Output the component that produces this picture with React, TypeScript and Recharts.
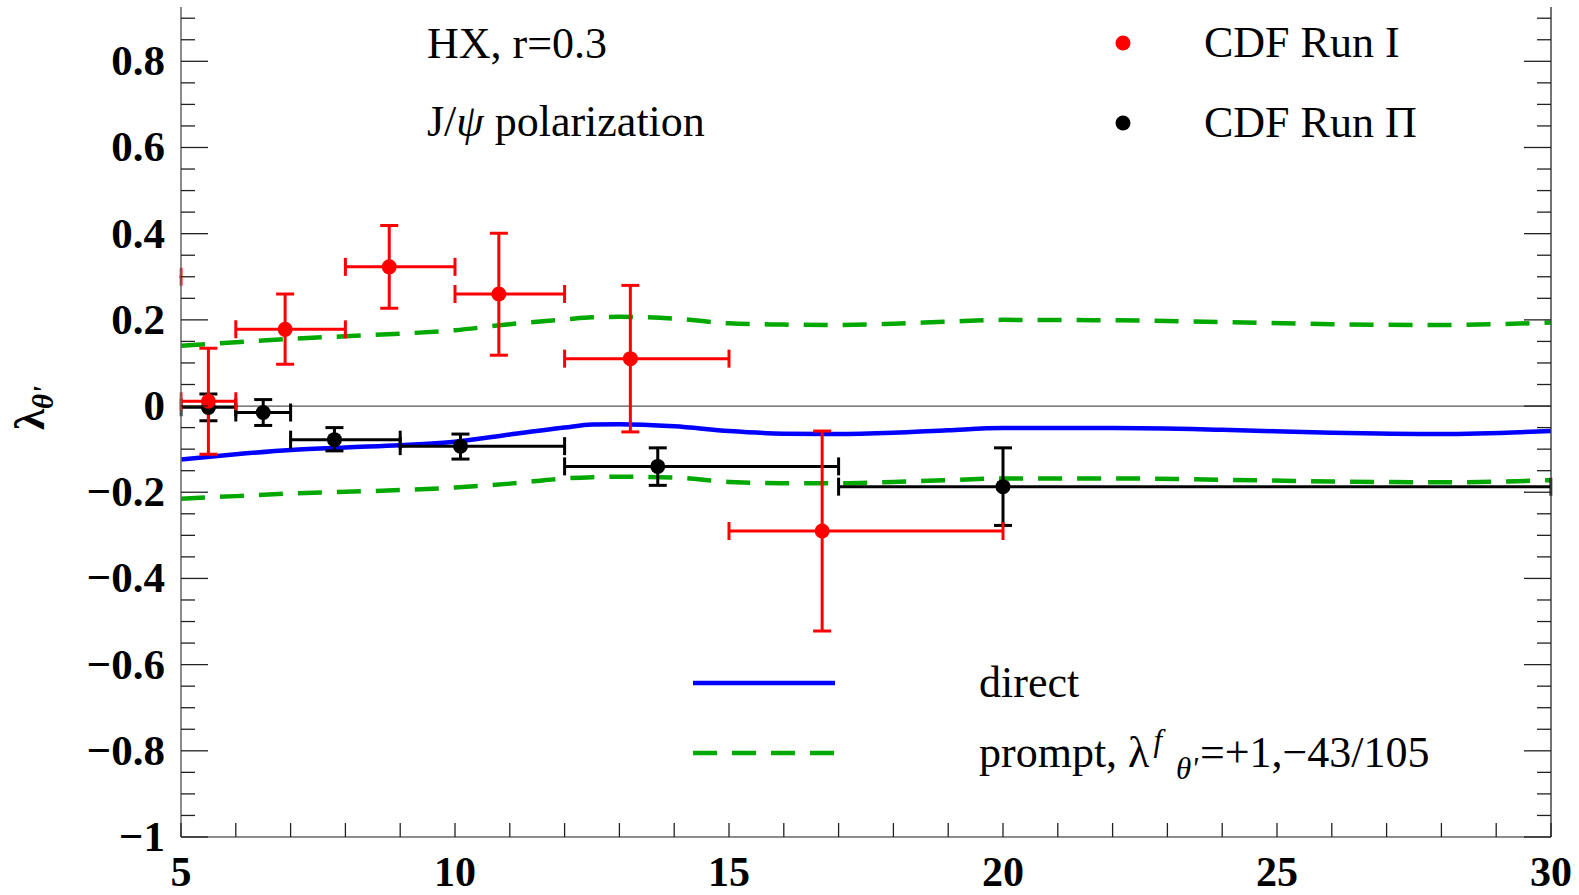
import { ComposedChart, Line, Scatter, ErrorBar, XAxis, YAxis, ReferenceLine } from 'recharts';

const W = 1579;
const H = 895;
const FONT = '"Liberation Serif", "Times New Roman", serif';

// theory curves, sampled on pT grid
const ptGrid = [5, 6, 7, 8, 9, 10, 11, 12, 12.5, 13, 14, 15, 16, 17, 18, 19, 20, 22, 24, 26, 28, 30];
const directVals = [-0.124, -0.112, -0.102, -0.096, -0.091, -0.083, -0.066, -0.05, -0.043, -0.042, -0.047, -0.058, -0.064, -0.065, -0.062, -0.056, -0.051, -0.051, -0.055, -0.062, -0.065, -0.058];
const promptUpVals = [0.14, 0.148, 0.156, 0.162, 0.168, 0.176, 0.19, 0.201, 0.206, 0.207, 0.203, 0.192, 0.189, 0.188, 0.191, 0.196, 0.2, 0.199, 0.195, 0.19, 0.188, 0.194];
const promptLoVals = [-0.215, -0.209, -0.203, -0.199, -0.195, -0.189, -0.18, -0.168, -0.165, -0.164, -0.166, -0.176, -0.179, -0.179, -0.176, -0.172, -0.168, -0.168, -0.171, -0.175, -0.177, -0.172];

// CDF Run I (first bin lies below pT=5, only its edge shows)
const run1X = [4.5, 5.5, 6.9, 8.8, 10.8, 13.2, 16.7];
const run1Y = [0.3, 0.011, 0.178, 0.323, 0.26, 0.11, -0.29];
const run1XLo = [4, 5, 6, 8, 10, 12, 15];
const run1XHi = [5, 6, 8, 10, 12, 15, 20];
const run1YLo = [0.2, -0.112, 0.097, 0.227, 0.118, -0.06, -0.522];
const run1YHi = [0.4, 0.134, 0.26, 0.419, 0.401, 0.28, -0.058];

// CDF Run II
const run2X = [5.5, 6.5, 7.8, 10.1, 13.7, 20];
const run2Y = [-0.003, -0.015, -0.078, -0.093, -0.14, -0.187];
const run2XLo = [5, 6, 7, 9, 12, 17];
const run2XHi = [6, 7, 9, 12, 17, 30];
const run2YLo = [-0.034, -0.045, -0.104, -0.123, -0.184, -0.277];
const run2YHi = [0.028, 0.015, -0.05, -0.065, -0.097, -0.097];

const xTicks = [5, 6, 7, 8, 9, 10, 11, 12, 13, 14, 15, 16, 17, 18, 19, 20, 21, 22, 23, 24, 25, 26, 27, 28, 29, 30];
const xLabels = [5, 10, 15, 20, 25, 30];
const yTicks = [-1, -0.95, -0.9, -0.85, -0.8, -0.75, -0.7, -0.65, -0.6, -0.55, -0.5, -0.45, -0.4, -0.35, -0.3, -0.25, -0.2, -0.15, -0.1, -0.05, 0, 0.05, 0.1, 0.15, 0.2, 0.25, 0.3, 0.35, 0.4, 0.45, 0.5, 0.55, 0.6, 0.65, 0.7, 0.75, 0.8, 0.85, 0.9];
const yLabels = [-1, -0.8, -0.6, -0.4, -0.2, 0, 0.2, 0.4, 0.6, 0.8];
const Y_DOMAIN: [number, number] = [-1, 0.926];

const curve = (vals: number[]) => ptGrid.map((x, i) => ({ x, y: vals[i] }));
const points = (xs: number[], ys: number[], xlo: number[], xhi: number[], ylo: number[], yhi: number[]) =>
  xs.map((x, i) => ({ x, y: ys[i], ex: [x - xlo[i], xhi[i] - x], ey: [ys[i] - ylo[i], yhi[i] - ys[i]] }));

const directData = curve(directVals);
const promptUpData = curve(promptUpVals);
const promptLoData = curve(promptLoVals);
const run1Data = points(run1X, run1Y, run1XLo, run1XHi, run1YLo, run1YHi);
const run2Data = points(run2X, run2Y, run2XLo, run2XHi, run2YLo, run2YHi);

const near = (a: number, b: number) => Math.abs(a - b) < 1e-6;
const fmtY = (v: number) => {
  if (near(v, 0)) return '0';
  if (near(v, -1)) return '\u22121';
  const s = Math.abs(v).toFixed(1);
  return v < 0 ? '\u2212' + s : s;
};

const YTickLeft = (props: any) => {
  const { x, y, payload } = props;
  const major = yLabels.some((l) => near(l, payload.value));
  return (
    <g>
      <line x1={x} x2={x + (major ? 27 : 14)} y1={y} y2={y} stroke="#222" strokeWidth={1.3} />
      {major && (
        <text x={x - 16} y={y + 14} textAnchor="end" fontFamily={FONT} fontWeight="bold" fontSize={43} fill="#000">
          {fmtY(payload.value)}
        </text>
      )}
    </g>
  );
};

const YTickRight = (props: any) => {
  const { x, y, payload } = props;
  const major = yLabels.some((l) => near(l, payload.value));
  return <line x1={x} x2={x - (major ? 27 : 14)} y1={y} y2={y} stroke="#222" strokeWidth={1.3} />;
};

const XTick = (props: any) => {
  const { x, y, payload } = props;
  const lab = xLabels.includes(payload.value);
  return (
    <g>
      <line x1={x} x2={x} y1={y} y2={y - 14} stroke="#222" strokeWidth={1.3} />
      {lab && (
        <text x={x} y={y + 49} textAnchor="middle" fontFamily={FONT} fontWeight="bold" fontSize={42} fill="#000">
          {payload.value}
        </text>
      )}
    </g>
  );
};

const dot = (color: string, r: number) => (p: any) => <circle cx={p.cx} cy={p.cy} r={r} fill={color} />;

export default function App() {
  return (
    <div style={{ position: 'absolute', left: 0, top: 0, width: W, height: H, background: '#fff', fontFamily: FONT }}>
      <svg width={0} height={0} style={{ position: 'absolute' }}>
        <defs>
          <clipPath id="plotClip" clipPathUnits="userSpaceOnUse">
            <rect x={179.5} y={7} width={1373} height={830} />
          </clipPath>
        </defs>
      </svg>
      <style>{'.recharts-errorBars, .recharts-errorBar { clip-path: url(#plotClip); }'}</style>
      <ComposedChart width={W} height={H} margin={{ top: 7, right: 0, left: 0, bottom: 0 }}>
        <XAxis dataKey="x" type="number" domain={[5, 30]} allowDataOverflow ticks={xTicks} interval={0}
          height={58} tickSize={0} tickMargin={0} tickLine={false} tick={<XTick />}
          axisLine={{ stroke: '#666', strokeWidth: 1.5 }} />
        <YAxis type="number" domain={Y_DOMAIN} allowDataOverflow ticks={yTicks} interval={0} width={181}
          tickSize={0} tickMargin={0} tickLine={false} tick={<YTickLeft />}
          axisLine={{ stroke: '#666', strokeWidth: 1.5 }} />
        <YAxis yAxisId="r" orientation="right" type="number" domain={Y_DOMAIN} allowDataOverflow ticks={yTicks}
          interval={0} width={28} tickSize={0} tickMargin={0} tickLine={false} tick={<YTickRight />}
          axisLine={{ stroke: '#444', strokeWidth: 1.5 }} />
        <ReferenceLine y={0} stroke="#555" strokeWidth={1.2} />
        <Line data={promptUpData} dataKey="y" type="monotone" stroke="#00a800" strokeWidth={4.5}
          strokeDasharray="24 15" dot={false} isAnimationActive={false} />
        <Line data={promptLoData} dataKey="y" type="monotone" stroke="#00a800" strokeWidth={4.5}
          strokeDasharray="24 15" dot={false} isAnimationActive={false} />
        <Line data={directData} dataKey="y" type="monotone" stroke="#0000ff" strokeWidth={4.5}
          dot={false} isAnimationActive={false} />
        <Scatter data={run2Data} dataKey="y" shape={dot('#000', 7.5)} isAnimationActive={false}>
          <ErrorBar dataKey="ex" direction="x" width={9} stroke="#000" strokeWidth={3} isAnimationActive={false} />
          <ErrorBar dataKey="ey" direction="y" width={9} stroke="#000" strokeWidth={3} isAnimationActive={false} />
        </Scatter>
        <Scatter data={run1Data} dataKey="y" shape={dot('#ff0000', 7.5)} isAnimationActive={false}>
          <ErrorBar dataKey="ex" direction="x" width={9} stroke="#ff0000" strokeWidth={3} isAnimationActive={false} />
          <ErrorBar dataKey="ey" direction="y" width={9} stroke="#ff0000" strokeWidth={3} isAnimationActive={false} />
        </Scatter>
      </ComposedChart>

      <svg width={W} height={H} style={{ position: 'absolute', left: 0, top: 0, pointerEvents: 'none' }}>
        <g fontFamily={FONT} fontSize={44} fill="#000">
          <text x={427} y={58}>HX, r=0.3</text>
          <text x={427} y={136}>J/<tspan fontStyle="italic">ψ</tspan> polarization</text>
          <circle cx={1123} cy={43} r={7.5} fill="#ff0000" />
          <text x={1204} y={57}>CDF Run I</text>
          <circle cx={1123} cy={123} r={7.5} fill="#000" />
          <text x={1204} y={137}>CDF Run Π</text>
          <line x1={693} x2={835} y1={683} y2={683} stroke="#0000ff" strokeWidth={4.5} />
          <text x={979} y={697}>direct</text>
          <line x1={693} x2={835} y1={753} y2={753} stroke="#00a800" strokeWidth={4.5} strokeDasharray="24 15" />
          <text x={979} y={767}>
            prompt, λ
            <tspan fontStyle="italic" fontSize={31} dy={-16} dx={4}>f</tspan>
            <tspan fontStyle="italic" fontSize={31} dy={28} dx={14}>θ'</tspan>
            <tspan dy={-12} dx={2}>=+1,−43/105</tspan>
          </text>
          <text transform="translate(44, 408) rotate(-90)" textAnchor="middle" fontWeight="bold" fontSize={43}>
            λ<tspan fontStyle="italic" fontSize={29} dy={9}>θ'</tspan>
          </text>
        </g>
      </svg>
    </div>
  );
}
